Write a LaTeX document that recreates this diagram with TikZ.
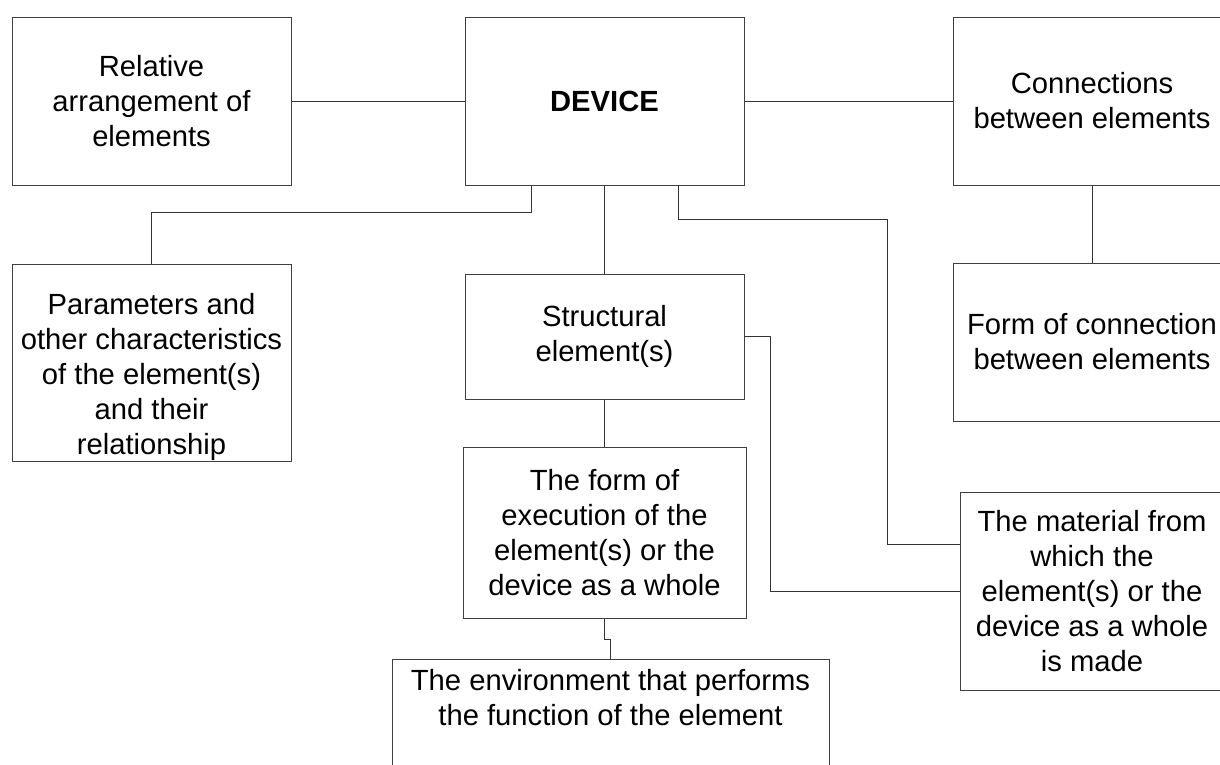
\documentclass[tikz,border=0pt]{standalone}
\usepackage{fontspec}
\setmainfont{Liberation Sans}
\usetikzlibrary{calc}
\begin{document}
\begin{tikzpicture}[x=0.75pt,y=-0.75pt,
  box/.style={draw=black!75,line width=0.75pt,inner sep=0pt,align=center,font=\fontsize{21.9}{26.25}\selectfont},
  txt/.style={inner sep=0pt,align=center,font=\fontsize{21.9}{26.25}\selectfont},
  link/.style={draw=black!80,line width=0.75pt}]
\useasboundingbox (0,0) rectangle (1220,764);
\clip (0,0) rectangle (1220,764);
\fill[white] (0,0) rectangle (1220,764);
% boxes
\node[box,minimum width=209.25pt,minimum height=126pt] (rel) at (151.5,101) {Relative\\arrangement of\\elements};
\node[box,minimum width=209.25pt,minimum height=126pt] (dev) at (604.5,101) {\bfseries DEVICE};
\node[box,minimum width=208.5pt,minimum height=126pt] (conn) at (1092,101) {Connections\\between elements};
\node[box,minimum width=209.25pt,minimum height=147.75pt] (par) at (151.5,362.5) {};
\node[txt] (partext) at (151.5,377) {Parameters and\\other characteristics\\of the element(s)\\and their\\relationship};
\node[box,minimum width=209.25pt,minimum height=93.75pt] (str) at (604.5,336.5) {Structural\\element(s)};
\node[box,minimum width=208.5pt,minimum height=118.5pt] (fconn) at (1092,342) {Form of connection\\between elements};
\node[box,minimum width=212.25pt,minimum height=128.25pt] (exec) at (604.5,532.5) {The form of\\execution of the\\element(s) or the\\device as a whole};
\node[box,minimum width=198pt,minimum height=148.5pt] (mat) at (1092,591) {The material from\\which the\\element(s) or the\\device as a whole\\is made};
\node[box,minimum width=327.75pt,minimum height=98.25pt] (env) at (610.5,724.5) {};
\node[txt] (envtext) at (610.5,698) {The environment that performs\\the function of the element};
% connectors
\draw[link] (rel.east) -- (dev.west);
\draw[link] (dev.east) -- (conn.west);
\draw[link] (conn.south) -- (fconn.north);
\draw[link] (dev.south) -- (str.north);
\draw[link] (str.south) -- (exec.north);
\draw[link] ($(dev.south)+(-73.5,0)$) -- ++(0,27) -| (par.north);
\draw[link] ($(dev.south)+(73.5,0)$) -- ++(0,34) -- ++(209,0) |- ($(mat.west)+(0,-47)$);
\draw[link] (str.east) -- ++(26,0) |- (mat.west);
\draw[link] (exec.south) -- ++(0,21) -| (env.north);
\end{tikzpicture}
\end{document}
